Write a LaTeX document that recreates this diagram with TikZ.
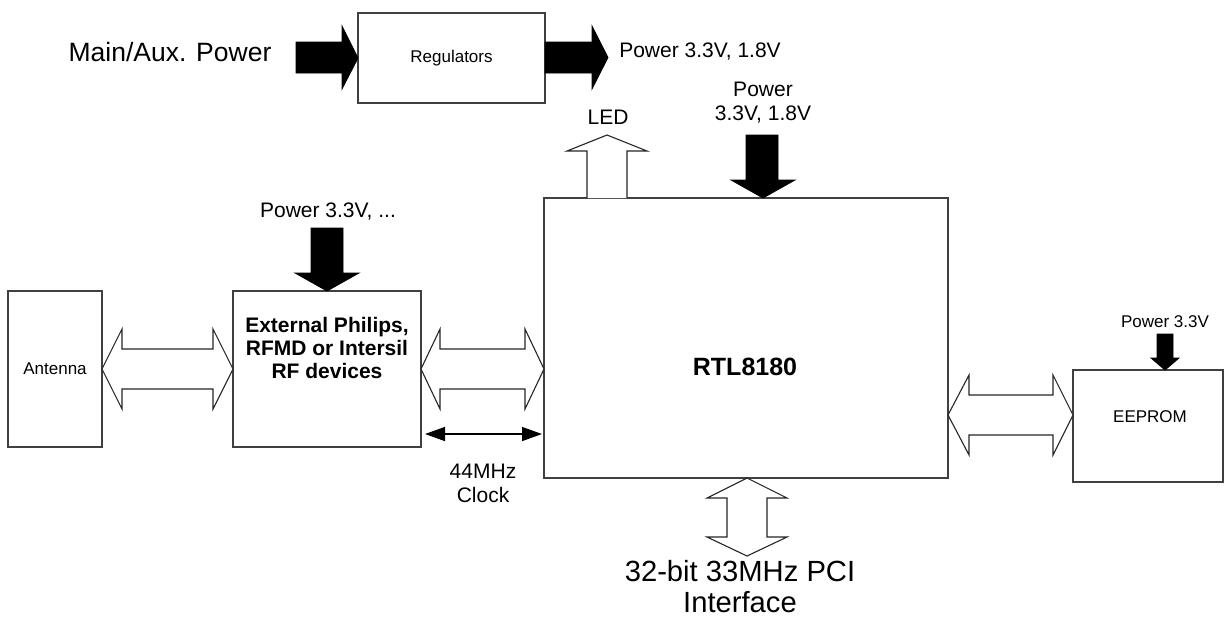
\documentclass[tikz,border=0pt]{standalone}
\usepackage{fontspec}
\setmainfont{Liberation Sans}
\usetikzlibrary{arrows.meta}
\begin{document}
\begin{tikzpicture}[x=0.5pt,y=-0.5pt,
  box/.style={draw=black!75,line width=0.6pt,inner sep=0pt,outer sep=0pt,fill=white},
  hollow/.style={draw=black!85,line width=0.55pt,fill=white,line join=miter},
  solid/.style={draw=black,line width=0.4pt,fill=black},
  fsmall/.style={font=\fontsize{8.5}{10}\selectfont},
  fmid/.style={font=\fontsize{10.5}{12}\selectfont},
  fbig/.style={font=\fontsize{13.25}{15}\selectfont},
  fpci/.style={font=\fontsize{14.6}{15.5}\selectfont,align=center},
  txt/.style={inner sep=0pt,align=center}]
\useasboundingbox (0,0) rectangle (1225,618);
\fill[white] (0,0) rectangle (1225,618);

% boxes
\node[box,minimum width=93.5pt,minimum height=45pt] (reg) at (451.5,58) {};
\node[box,minimum width=202pt,minimum height=140pt] (rtl) at (746,338) {};
\node[box,minimum width=47pt,minimum height=78pt] (ant) at (55,369) {};
\node[box,minimum width=94pt,minimum height=78pt] (rf) at (327,369) {};
\node[box,minimum width=75pt,minimum height=56pt] (eep) at (1148,426) {};

% box texts
\node[txt,fsmall] (tReg) at (reg.center) {Regulators};
\node[txt,fsmall] (tAnt) at (ant.center) {Antenna};
\node[txt,fsmall] (tEep) at (1150,417) {EEPROM};
\node[txt,font=\fontsize{12.5}{14}\selectfont\bfseries] (tRtl) at (745,367) {RTL8180};
\node[txt,font=\fontsize{10.5}{11.5}\selectfont\bfseries] (tRf) at (327,348) {External Philips,\\RFMD or Intersil\\RF devices};

% free texts
\node[txt,fbig] (tMain) at (170,52) {Main/Aux. Power};
\node[txt,fmid] (tPow1) at (700,52) {Power 3.3V, 1.8V};
\node[txt,fmid] (tLed) at (608,117) {LED};
\node[txt,fmid,font=\fontsize{10.5}{12}\selectfont] (tPow2) at (763,103) {Power\\3.3V, 1.8V};
\node[txt,fmid] (tPow3) at (328,212) {Power 3.3V, ...};
\node[txt,fsmall] (tPow4) at (1165,322) {Power 3.3V};
\node[txt,fmid,font=\fontsize{10.5}{12}\selectfont] (tClk) at (483,483) {44MHz\\Clock};
\node[txt,fpci] (tPci) at (740,587) {32-bit 33MHz PCI\\Interface};

% solid block arrows
\draw[solid] (296,42) -- (342,42) -- (342,26) -- (reg.west) -- (342,89) -- (342,73) -- (296,73) -- cycle;
\draw[solid] (reg.east |- 0,42) -- (592,42) -- (592,26) -- (608,57.5) -- (592,89) -- (592,73) -- (reg.east |- 0,73) -- cycle;
\draw[solid] (746,135) -- (778,135) -- (778,180) -- (795,180) -- (763,198) -- (731,180) -- (746,180) -- cycle;
\draw[solid] (311,228) -- (343,228) -- (343,273) -- (359,273) -- (327,291) -- (295,273) -- (311,273) -- cycle;
\draw[solid] (1157,334) -- (1173,334) -- (1173,358) -- (1179,358) -- (1165,370) -- (1151,358) -- (1157,358) -- cycle;

% hollow arrows
\draw[hollow] (587,198) -- (587,151) -- (567,151) -- (607,135) -- (647,151) -- (627,151) -- (627,198);
\draw[hollow] (ant.east |- 0,369) -- (122,329) -- (122,349) -- (213,349) -- (213,329) -- (rf.west) -- (213,409) -- (213,389) -- (122,389) -- (122,409) -- cycle;
\draw[hollow] (rf.east) -- (440,329) -- (440,349) -- (525,349) -- (525,329) -- (rtl.west |- 0,369) -- (525,409) -- (525,389) -- (440,389) -- (440,409) -- cycle;
\draw[hollow] (rtl.east |- 0,415) -- (969,375) -- (969,395) -- (1053,395) -- (1053,375) -- (eep.west |- 0,415) -- (1053,455) -- (1053,435) -- (969,435) -- (969,455) -- cycle;
\draw[hollow] (747,478) -- (787,498) -- (767,498) -- (767,537) -- (787,537) -- (747,556) -- (707,537) -- (727,537) -- (727,498) -- (707,498) -- cycle;

% clock arrow
\coordinate (ck1) at (425,434);
\coordinate (ck2) at (542,434);
\draw[line width=0.75pt,{Triangle[length=10pt,width=7pt]}-{Triangle[length=10pt,width=7pt]}] (ck1) -- (ck2);
\end{tikzpicture}
\end{document}
